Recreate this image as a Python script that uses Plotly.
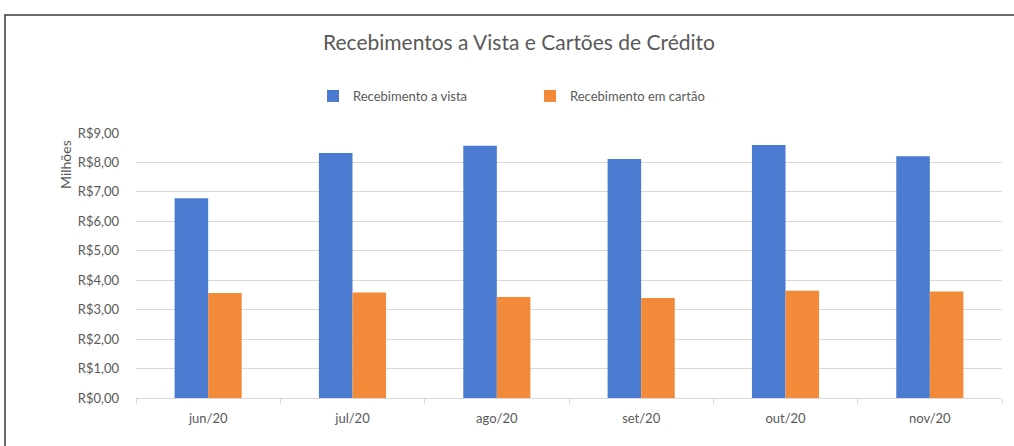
import plotly.graph_objects as go

categories = ["jun/20", "jul/20", "ago/20", "set/20", "out/20", "nov/20"]
vista = [6.78, 8.32, 8.57, 8.12, 8.59, 8.21]
cartao = [3.57, 3.58, 3.43, 3.40, 3.64, 3.62]
series_names = ["Recebimento a vista", "Recebimento em cartão"]
y_ticks = [0, 1, 2, 3, 4, 5, 6, 7, 8, 9]
y_tick_labels = ["R$0,00", "R$1,00", "R$2,00", "R$3,00", "R$4,00",
                 "R$5,00", "R$6,00", "R$7,00", "R$8,00", "R$9,00"]

FONT = "Lato"
GREY = "#595959"

W, H = 1014, 446
L, R, T, B = 136, 12, 133, 48
pw, ph = W - L - R, H - T - B

def px_x(x):
    return (x - L) / pw

def px_y(y):
    return (H - B - y) / ph

fig = go.Figure()
fig.add_trace(go.Bar(x=categories, y=vista, name=series_names[0],
                     marker=dict(color="#4a7bd0", line=dict(width=0))))
fig.add_trace(go.Bar(x=categories, y=cartao, name=series_names[1],
                     marker=dict(color="#f28a3a", line=dict(width=0))))

fig.update_layout(
    width=W, height=H,
    margin=dict(l=L, r=R, t=T, b=B),
    paper_bgcolor="white", plot_bgcolor="white",
    font=dict(family=FONT, color=GREY, size=13),
    barmode="group", bargap=0.535, bargroupgap=0,
    title=dict(text="Recebimentos a Vista e Cartões de Crédito",
               x=519 / W, xanchor="center", y=1 - 43 / H, yanchor="middle",
               font=dict(family=FONT, size=21, color=GREY)),
    showlegend=True,
    legend=dict(orientation="h", x=0.5 - 39 / pw, xanchor="center",
                y=px_y(96), yanchor="middle",
                font=dict(family=FONT, size=13, color=GREY),
                itemwidth=30, entrywidth=172, entrywidthmode="pixels",
                bgcolor="rgba(0,0,0,0)"),
    xaxis=dict(showgrid=False, showline=True, linecolor="#d9d9d9", linewidth=1,
               ticks="outside", tickson="boundaries", ticklen=5,
               ticklabelstandoff=8,
               tickcolor="#d9d9d9", tickfont=dict(size=13, color=GREY)),
    yaxis=dict(range=[0, 9], tickvals=y_ticks, ticktext=y_tick_labels,
               showgrid=True, gridcolor="#d9d9d9", gridwidth=1,
               zeroline=False, showline=False, ticks="",
               ticklabelstandoff=16,
               tickfont=dict(size=13, color=GREY)),
    annotations=[dict(text="Milhões", textangle=-90, xref="paper", yref="paper",
                      x=px_x(65), y=px_y(165), xanchor="center", yanchor="middle",
                      showarrow=False, font=dict(size=14, color=GREY, family=FONT))],
    shapes=[dict(type="path", xref="paper", yref="paper",
                 path=f"M {px_x(5)} {px_y(450)} L {px_x(5)} {px_y(15)} L {px_x(1020)} {px_y(15)}",
                 line=dict(color="#3a3a3a", width=1.5))],
)

fig.write_html("out.html", config={"displayModeBar": False},
               post_script="document.body.style.margin='0';")
